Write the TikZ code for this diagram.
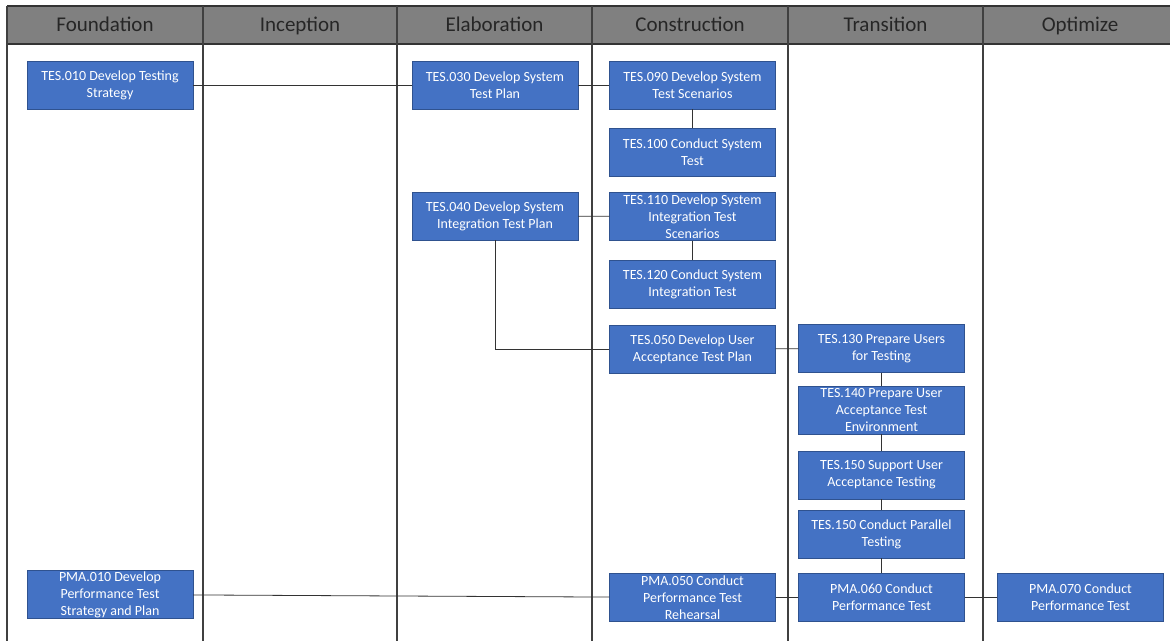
\documentclass[tikz,border=0pt]{standalone}
\usepackage{fontspec}
\setmainfont{Carlito}
\usepackage{xcolor}
\usepackage{tikz}
\usetikzlibrary{positioning}
\definecolor{hdrgray}{RGB}{128,128,128}
\definecolor{taskblue}{RGB}{68,114,196}
\definecolor{taskedge}{RGB}{47,82,143}

\begin{document}
\begin{tikzpicture}[x=1pt, y=-1pt,
      task/.style={rectangle, draw=taskedge, fill=taskblue, text=white,
        minimum width=166pt, minimum height=48pt, inner sep=0pt,
        align=center, font=\fontsize{14}{17}\selectfont},
      phase/.style={font=\fontsize{21}{24}\selectfont, text=black!85, anchor=base},
      link/.style={draw=black!80, line width=0.8pt}]
    \useasboundingbox (0,0) rectangle (1170,641);
    % phase header and lanes
    \fill[hdrgray] (7,6) rectangle (1170,44);
    \draw[line width=1.3pt, black!80] (7,6) -- (1170,6) (7,44) -- (1170,44);
    \foreach \x in {7,203,397,592,788,983}
      \draw[line width=1.3pt, black!75] (\x,6) -- (\x,641);
    \foreach \p/\x in {Foundation/105,Inception/300,Elaboration/494.5,Construction/690,Transition/885.5,Optimize/1080}
      \node[phase] (h\p) at (\x,31.5) {\p};
    % tasks
    \node[task] (tes010) at (110,85) {TES.010 Develop Testing\\Strategy};
    \node[task] (tes030) at (495,85) {TES.030 Develop System\\Test Plan};
    \node[task] (tes090) at (692.5,85) {TES.090 Develop System\\Test Scenarios};
    \node[task] (tes100) at (692.5,152) {TES.100 Conduct System\\Test};
    \node[task] (tes040) at (495,216) {TES.040 Develop System\\Integration Test Plan};
    \node[task] (tes110) at (692.5,216.5) {TES.110 Develop System\\Integration Test\\Scenarios};
    \node[task] (tes120) at (692.5,284) {TES.120 Conduct System\\Integration Test};
    \node[task] (tes050) at (692.5,349) {TES.050 Develop User\\Acceptance Test Plan};
    \node[task] (tes130) at (881.5,348.5) {TES.130 Prepare Users\\for Testing};
    \node[task] (tes140) at (881.5,410) {TES.140 Prepare User\\Acceptance Test\\Environment};
    \node[task] (tes150) at (881.5,475) {TES.150 Support User\\Acceptance Testing};
    \node[task] (tes150p) at (881.5,534) {TES.150 Conduct Parallel\\Testing};
    \node[task] (pma010) at (110,594.5) {PMA.010 Develop\\Performance Test\\Strategy and Plan};
    \node[task] (pma050) at (692.5,597.5) {PMA.050 Conduct\\Performance Test\\Rehearsal};
    \node[task] (pma060) at (881.5,597.5) {PMA.060 Conduct\\Performance Test};
    \node[task] (pma070) at (1080.5,597.5) {PMA.070 Conduct\\Performance Test};
    % links
    \draw[link] (tes010) -- (tes030);
    \draw[link] (tes030) -- (tes090);
    \draw[link] (tes090) -- (tes100);
    \draw[link] (tes040) -- (tes110);
    \draw[link] (tes110) -- (tes120);
    \draw[link] (tes040) |- (tes050);
    \draw[link] (tes050) -- (tes130);
    \draw[link] (tes130) -- (tes140);
    \draw[link] (tes140) -- (tes150);
    \draw[link] (tes150) -- (tes150p);
    \draw[link] (tes150p) -- (pma060);
    \draw[link] (pma010) -- (pma050);
    \draw[link] (pma050) -- (pma060);
    \draw[link] (pma060) -- (pma070);
  \end{tikzpicture}
\end{document}
